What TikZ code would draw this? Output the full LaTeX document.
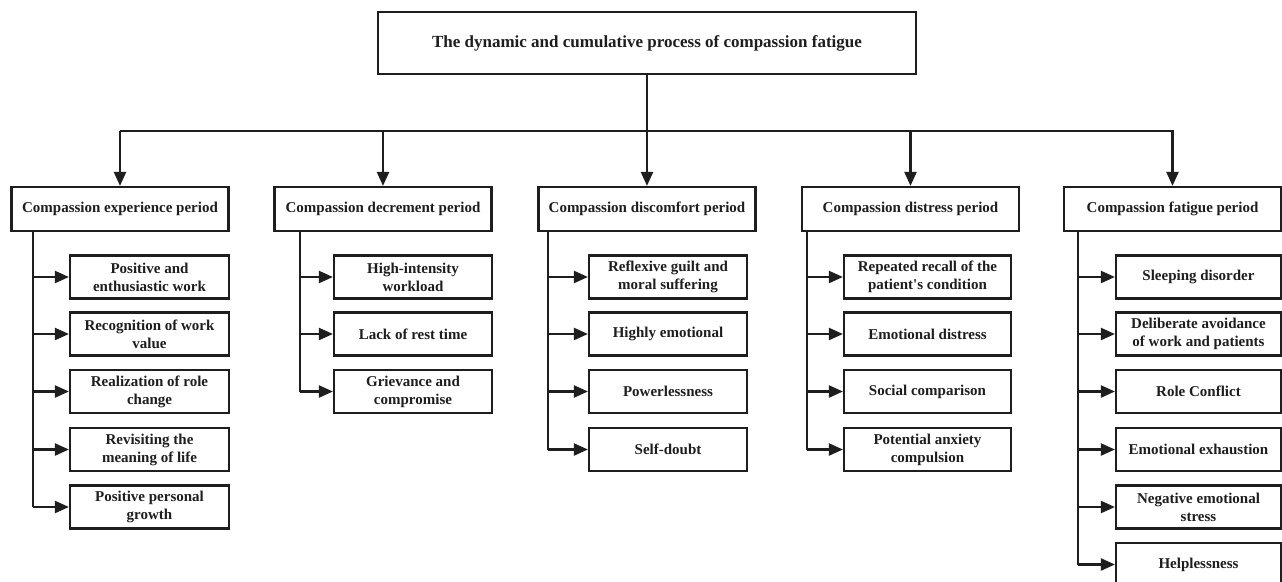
\documentclass[tikz,border=0pt]{standalone}
\usepackage{fontspec}
\setmainfont{Liberation Serif}
\usetikzlibrary{arrows.meta}
\definecolor{ink}{HTML}{1E1E1E}
\newcommand{\sq}{\XeTeXglyph\XeTeXcharglyph"27\relax}
\begin{document}
\begin{tikzpicture}[x=1pt,y=-1pt,
  box/.style={draw=ink, line width=2.2pt, fill=white, inner sep=1pt, align=center,
    text=ink, font=\fontsize{15}{18}\selectfont\bfseries},
  pbox/.style={box, minimum width=217pt, minimum height=44pt},
  cbox/.style={box, minimum height=43pt},
  link/.style={draw=ink, line width=2.2pt},
  arr/.style={link, -{Triangle[length=14pt,width=12pt]}}]
\useasboundingbox (0,0) rectangle (1282,581);
\clip (0,0) rectangle (1282,581);
\fill[white] (0,0) rectangle (1282,581);

% top
\node[box, minimum width=538pt, minimum height=62pt, font=\fontsize{17}{20}\selectfont\bfseries] (top) at (647,43) {The dynamic and cumulative process of compassion fatigue};

% periods
\node[pbox] (p1) at (120,209) {Compassion experience period};
\node[pbox] (p2) at (383,209) {Compassion decrement period};
\node[pbox] (p3) at (647,209) {Compassion discomfort period};
\node[pbox] (p4) at (910.5,209) {Compassion distress period};
\node[pbox] (p5) at (1172.5,209) {Compassion fatigue period};

% bus
\coordinate (busL) at (120,131);
\coordinate (busR) at (1174,131);
\coordinate (busM) at (647,131);
\draw[link] (busL) -- (busR);
\draw[link] (top.south) -- (busM);
\foreach \i in {1,...,5} {\draw[arr] (p\i.north |- busM) -- (p\i.north);}

% column 1
\begin{scope}[every node/.append style={cbox, minimum width=159pt}]
\node (a1) at (149.5,277) {Positive and\\enthusiastic work};
\node (a2) at (149.5,334) {Recognition of work\\value};
\node (a3) at (149.5,391.5) {Realization of role\\change};
\node (a4) at (149.5,449.5) {Revisiting the\\meaning of life};
\node (a5) at (149.5,507) {Positive personal\\growth};
\end{scope}
% column 2
\begin{scope}[every node/.append style={cbox, minimum width=158pt}]
\node (b1) at (413,277) {High-intensity\\workload};
\node (b2) at (413,334) {Lack of rest time};
\node (b3) at (413,391.5) {Grievance and\\compromise};
\end{scope}
% column 3
\begin{scope}[every node/.append style={cbox, minimum width=158pt}]
\node (c1) at (668,277) {Reflexive guilt and\\moral suffering};
\node (c2) at (668,334) {Highly emotional};
\node (c3) at (668,391.5) {Powerlessness};
\node (c4) at (668,449.5) {Self-doubt};
\end{scope}
% column 4
\begin{scope}[every node/.append style={cbox, minimum width=167pt}]
\node (d1) at (927.5,277) {Repeated recall of the\\patient\sq s condition};
\node (d2) at (927.5,334) {Emotional distress};
\node (d3) at (927.5,391.5) {Social comparison};
\node (d4) at (927.5,449.5) {Potential anxiety\\compulsion};
\end{scope}
% column 5
\begin{scope}[every node/.append style={cbox, minimum width=165pt}]
\node (e1) at (1198.5,277) {Sleeping disorder};
\node (e2) at (1198.5,334) {Deliberate avoidance\\of work and patients};
\node (e3) at (1198.5,391.5) {Role Conflict};
\node (e4) at (1198.5,449.5) {Emotional exhaustion};
\node (e5) at (1198.5,507) {Negative emotional\\stress};
\node (e6) at (1198.5,564.5) {Helplessness};
\end{scope}

% trunks
\coordinate (t1) at (33,231);
\coordinate (t2) at (300,231);
\coordinate (t3) at (548,231);
\coordinate (t4) at (807,231);
\coordinate (t5) at (1078,231);
\draw[link] (t1) -- (t1 |- a5.west);
\foreach \n in {a1,a2,a3,a4,a5} {\draw[arr] (t1 |- \n.west) -- (\n.west);}
\draw[link] (t2) -- (t2 |- b3.west);
\foreach \n in {b1,b2,b3} {\draw[arr] (t2 |- \n.west) -- (\n.west);}
\draw[link] (t3) -- (t3 |- c4.west);
\foreach \n in {c1,c2,c3,c4} {\draw[arr] (t3 |- \n.west) -- (\n.west);}
\draw[link] (t4) -- (t4 |- d4.west);
\foreach \n in {d1,d2,d3,d4} {\draw[arr] (t4 |- \n.west) -- (\n.west);}
\draw[link] (t5) -- (t5 |- e6.west);
\foreach \n in {e1,e2,e3,e4,e5,e6} {\draw[arr] (t5 |- \n.west) -- (\n.west);}
\end{tikzpicture}
\end{document}
